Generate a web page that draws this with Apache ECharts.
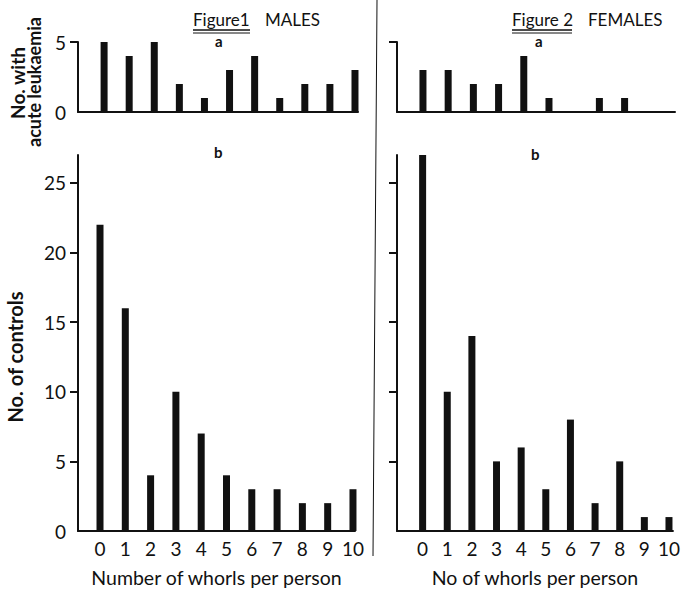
<!DOCTYPE html>
<html>
<head>
<meta charset="utf-8">
<script src="https://cdn.jsdelivr.net/npm/echarts@6/dist/echarts.min.js"></script>
<style>
  html, body { margin: 0; padding: 0; background: #fff; }
  #chart { width: 683px; height: 592px; }
</style>
</head>
<body>
<div id="chart"></div>
<script>
// number of whorls per person (x categories)
const whorls = [0, 1, 2, 3, 4, 5, 6, 7, 8, 9, 10];

// Figure 1 - males
const malesLeukaemia = [5, 4, 5, 2, 1, 3, 4, 1, 2, 2, 3];
const malesControls = [22, 16, 4, 10, 7, 4, 3, 3, 2, 2, 3];

// Figure 2 - females
const femalesLeukaemia = [3, 3, 2, 2, 4, 1, 0, 1, 1, 0, 0];
const femalesControls = [27, 10, 14, 5, 6, 3, 8, 2, 5, 1, 1];

// tick labels
const topTicks = [0, 5];
const bottomTicks = [0, 5, 10, 15, 20, 25];

const font = "Lato, 'Open Sans', sans-serif";
const ink = "#111";

const chart = echarts.init(document.getElementById("chart"), null, { renderer: "svg" });

const pairs = (vals) => whorls.map((w, i) => [w, vals[i]]);

const xAxisBase = (gridIndex, min, max, labels) => ({
    type: "value",
    gridIndex: gridIndex,
    min: min,
    max: max,
    axisLine: { show: true, onZero: false, lineStyle: { color: ink, width: 2 } },
    axisTick: { show: false },
    splitLine: { show: false },
    axisLabel: labels
        ? { show: true, customValues: whorls, color: ink, fontSize: 19, fontFamily: font, margin: 8 }
        : { show: false },
});

const yAxisBase = (gridIndex, max, tickVals, labelVals) => ({
    type: "value",
    gridIndex: gridIndex,
    min: 0,
    max: max,
    axisLine: { show: true, onZero: false, lineStyle: { color: ink, width: 2 } },
    axisTick: { show: true, length: 8, customValues: tickVals, lineStyle: { color: ink, width: 2 } },
    splitLine: { show: false },
    axisLabel: labelVals
        ? { show: true, customValues: labelVals, color: ink, fontSize: 19, fontFamily: font, margin: 12 }
        : { show: false },
});

const barSeries = (idx, vals) => ({
    type: "bar",
    xAxisIndex: idx,
    yAxisIndex: idx,
    barWidth: 7,
    itemStyle: { color: ink },
    data: pairs(vals),
});

// rotated y-axis captions
const vText = (x, y, text, size) => ({
    type: "text",
    x: x,
    y: y,
    rotation: Math.PI / 2,
    style: { text: text, font: "bold " + size + "px " + font, fill: ink, align: "center", verticalAlign: "middle" },
});

let options = {
    backgroundColor: "#fff",
    animation: false,
    textStyle: { fontFamily: font, color: ink },
    grid: [
        { left: 78, top: 42, width: 280, height: 70 },   // males a
        { left: 78, top: 155, width: 277, height: 378 }, // males b
        { left: 397, top: 42, width: 278, height: 70 },  // females a
        { left: 397, top: 155, width: 280, height: 378 }, // females b
    ],
    xAxis: [
        xAxisBase(0, -1.04, 10.12, false),
        Object.assign(xAxisBase(1, -0.87, 10.08, true), {
            name: "Number of whorls per person",
            nameLocation: "middle",
            nameGap: 36,
            nameTextStyle: { fontSize: 19.5, fontFamily: font, color: ink },
        }),
        xAxisBase(2, -1.03, 10.0, false),
        Object.assign(xAxisBase(3, -1.04, 10.16, true), {
            name: "No of whorls per person",
            nameLocation: "middle",
            nameGap: 36,
            nameTextStyle: { fontSize: 19.5, fontFamily: font, color: ink },
        }),
    ],
    yAxis: [
        yAxisBase(0, 5, [5], topTicks),
        yAxisBase(1, 27, [5, 10, 15, 20, 25], bottomTicks),
        yAxisBase(2, 5, [5], null),
        yAxisBase(3, 27, [5, 10, 15, 20, 25], null),
    ],
    series: [
        barSeries(0, malesLeukaemia),
        barSeries(1, malesControls),
        barSeries(2, femalesLeukaemia),
        barSeries(3, femalesControls),
    ],
    graphic: [
        // divider between the two figures
        { type: "line", shape: { x1: 377, y1: 0, x2: 373, y2: 556 }, style: { stroke: ink, lineWidth: 1 } },
        // figure headings
        { type: "text", left: 193, top: 11, style: { text: "Figure1", font: "17px " + font, fill: ink } },
        { type: "line", shape: { x1: 193, y1: 30, x2: 250, y2: 30 }, style: { stroke: ink, lineWidth: 1.5 } },
        { type: "line", shape: { x1: 193, y1: 33, x2: 250, y2: 33 }, style: { stroke: ink, lineWidth: 1 } },
        { type: "text", left: 265, top: 11, style: { text: "MALES", font: "17px " + font, fill: ink } },
        { type: "text", left: 512, top: 11, style: { text: "Figure 2", font: "17px " + font, fill: ink } },
        { type: "line", shape: { x1: 512, y1: 30, x2: 572, y2: 30 }, style: { stroke: ink, lineWidth: 1.5 } },
        { type: "line", shape: { x1: 512, y1: 33, x2: 572, y2: 33 }, style: { stroke: ink, lineWidth: 1 } },
        { type: "text", left: 588, top: 11, style: { text: "FEMALES", font: "17px " + font, fill: ink } },
        // panel letters
        { type: "text", left: 215, top: 33, style: { text: "a", font: "bold 15px " + font, fill: ink } },
        { type: "text", left: 535, top: 33, style: { text: "a", font: "bold 15px " + font, fill: ink } },
        { type: "text", left: 214, top: 144, style: { text: "b", font: "bold 15px " + font, fill: ink } },
        { type: "text", left: 531, top: 146, style: { text: "b", font: "bold 15px " + font, fill: ink } },
        // y-axis captions
        vText(17, 83, "No. with", 19),
        vText(34, 82, "acute leukaemia", 18),
        vText(15, 357, "No. of controls", 20),
    ],
};

chart.setOption(options);
</script>
</body>
</html>
